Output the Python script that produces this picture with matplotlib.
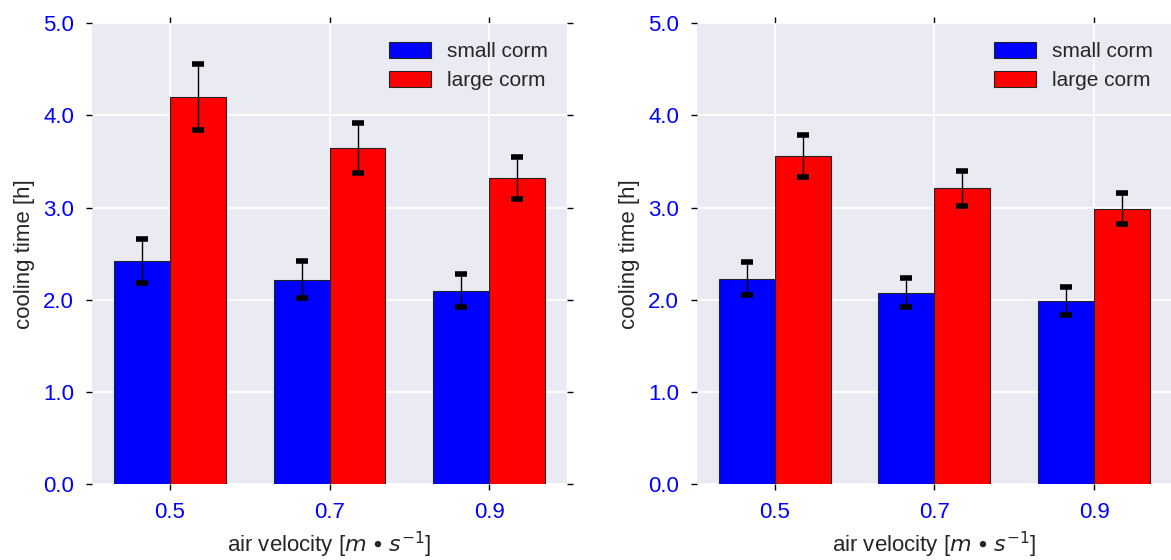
import numpy as np
import matplotlib
matplotlib.use('Agg')
import matplotlib.pyplot as plt

plt.rcParams['font.family'] = ['Liberation Sans', 'DejaVu Sans']

# data
velocities = ['0.5', '0.7', '0.9']
small_a = [2.42, 2.22, 2.10]
small_a_err = [0.24, 0.20, 0.18]
large_a = [4.20, 3.65, 3.32]
large_a_err = [0.355, 0.27, 0.225]

small_b = [2.23, 2.08, 1.99]
small_b_err = [0.18, 0.16, 0.155]
large_b = [3.56, 3.21, 2.99]
large_b_err = [0.23, 0.19, 0.165]

yticks = [0.0, 1.0, 2.0, 3.0, 4.0, 5.0]
width = 0.35
text_col = '#262626'
tick_col = '#0000FF'

fig = plt.figure(figsize=(11.71, 5.6), dpi=100)
ax1 = fig.add_axes([0.0786, 0.1352, 0.4056, 0.8232])
ax2 = fig.add_axes([0.5952, 0.1352, 0.4056, 0.8232])


def draw(ax, small, small_err, large, large_err):
    x = np.arange(len(velocities))
    ax.set_facecolor('#EAEAF2')
    ax.set_axisbelow(True)
    ax.grid(True, color='white', linewidth=1.3)
    err_kw = dict(ecolor='black', elinewidth=1.0, capsize=4.5, capthick=4)
    ax.bar(x - width / 2, small, width, yerr=small_err, color='#0000FF',
           edgecolor='#222222', linewidth=0.8, error_kw=err_kw, label='small corm')
    ax.bar(x + width / 2, large, width, yerr=large_err, color='#FF0000',
           edgecolor='#222222', linewidth=0.8, error_kw=err_kw, label='large corm')
    ax.set_xticks(x)
    ax.set_xticklabels(velocities)
    ax.set_yticks(yticks)
    ax.set_yticklabels(['%.1f' % v for v in yticks])
    ax.set_ylim(0, 5.0)
    for s in ax.spines.values():
        s.set_visible(False)
    ax.tick_params(axis='both', direction='out', length=4, width=1, color='black',
                   labelsize=16, labelcolor=tick_col, top=True, right=True,
                   labeltop=False, labelright=False)
    ax.tick_params(axis='x', pad=9)
    ax.tick_params(axis='y', pad=9)
    ax.set_ylabel('cooling time [h]', fontsize=16, color=text_col, labelpad=6)
    ax.set_xlabel(r'air velocity [$m \bullet s^{-1}$]', fontsize=16, color=text_col, labelpad=5)
    leg = ax.legend(loc='upper right', frameon=False, fontsize=15, handlelength=2.0,
                    handleheight=0.8, handletextpad=0.8, labelspacing=0.45)
    for t in leg.get_texts():
        t.set_color(text_col)


draw(ax1, small_a, small_a_err, large_a, large_a_err)
draw(ax2, small_b, small_b_err, large_b, large_b_err)

fig.savefig('out.png', dpi=100)
